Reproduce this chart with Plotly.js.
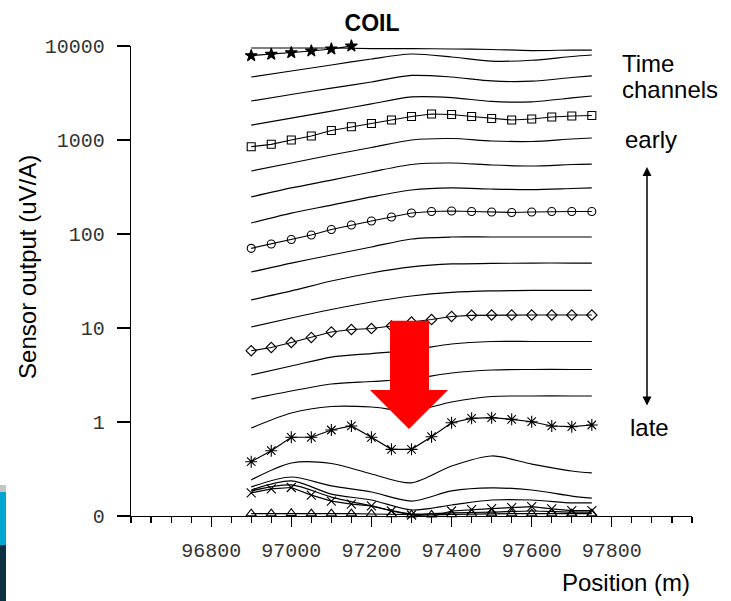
<!DOCTYPE html>
<html>
<head>
<meta charset="utf-8">
<script src="https://cdn.plot.ly/plotly-3.0.1.min.js"></script>
<style>
html,body{margin:0;padding:0;background:#fff;}
#chart{width:731px;height:601px;}
</style>
</head>
<body>
<div id="chart"></div>
<script>
// ---- data ----
const xMarked = [96900,96950,97000,97050,97100,97150,97200,97250,97300,97350,97400,97450,97500,97550,97600,97650,97700,97750];
const xPlain  = [96900,97000,97100,97200,97300,97400,97500,97600,97700,97750];
const xStar   = [96900,96950,97000,97050,97100,97150];

const ch01 = [9520,9520,9520,9400,9400,9290,9180,8950,9060,9060];
const ch02Star = [7890,8160,8490,8850,9290,9990];
const ch03 = [4680,5420,6280,7270,8220,7640,6900,7050,7730,8020];
const ch04 = [2600,3050,3570,4140,4860,4680,4250,4220,4620,4800];
const ch05 = [1440,1710,2030,2420,2870,2830,2570,2550,2800,2940];
const ch06Square = [849,900,1000,1103,1262,1385,1498,1632,1778,1891,1868,1778,1693,1632,1672,1757,1800,1822];
const ch07 = [468,569,692,832,1000,1037,976,964,1025,1050];
const ch08 = [248,309,375,457,549,569,542,529,549,555];
const ch09 = [131,167,203,248,294,309,301,297,305,309];
const ch10Circle = [70.4,78.3,87.4,97.6,111.7,124.6,137.5,151.7,167.3,173.5,175.6,173.5,171.4,169.3,171.4,173.5,173.5,173.5];
const ch11 = [39.4,49.1,59.8,72.7,88.5,92.9,92.9,92.9,92.9,92.9];
const ch12 = [19.9,24.8,31.6,38.5,44.6,48.0,48.6,49.1,49.1,49.1];
const ch13 = [10.25,12.78,15.73,18.9,21.9,23.9,24.8,25.1,25.1,25.1];
const ch14Diamond = [5.73,6.20,7.01,7.93,9.07,9.64,9.88,10.5,11.58,12.31,13.26,13.65,13.75,13.75,13.75,13.75,13.75,13.75];
const ch15 = [3.16,3.94,4.91,5.35,5.83,6.76,7.18,7.18,7.18,7.18];
const ch16 = [1.757,2.137,2.537,2.697,2.867,3.32,3.575,3.619,3.619,3.619];
const ch17 = [0.863,1.247,1.462,1.444,1.309,1.632,1.867,1.891,1.891,1.891];
const ch18Asterisk = [0.378,0.495,0.688,0.688,0.822,0.907,0.688,0.512,0.512,0.698,0.983,1.095,1.111,1.068,1.007,0.907,0.891,0.929];
const ch19 = [0.242,0.366,0.362,0.280,0.225,0.340,0.435,0.357,0.301,0.287];
const ch20 = [0.204,0.260,0.209,0.180,0.144,0.185,0.199,0.189,0.163,0.155];
const ch21 = [0.189,0.236,0.171,0.148,0.116,0.131,0.148,0.148,0.138,0.138];
const ch22 = [0.185,0.214,0.159,0.128,0.105,0.108,0.110,0.113,0.110,0.110];
const ch23Cross = [0.176,0.194,0.201,0.167,0.144,0.134,0.128,0.113,0.1025,0.0988,0.113,0.117,0.120,0.123,0.126,0.119,0.114,0.114];
const ch24Triangle = [0.106,0.106,0.107,0.106,0.106,0.106,0.105,0.104,0.103,0.103,0.104,0.105,0.106,0.106,0.106,0.106,0.106,0.106];

const xTickVals = [96800,97000,97200,97400,97600,97800];
const xTickText = ['96800','97000','97200','97400','97600','97800'];
const yTickVals = [0.1,1,10,100,1000,10000];
const yTickText = ['0','1','10','100','1000','10000'];

// ---- traces ----
const LW = 1.2;
function plain(y){
  return {x:xPlain, y:y, mode:'lines', type:'scatter', showlegend:false,
          line:{color:'#000', width:LW, shape:'spline', smoothing:0.8}, hoverinfo:'skip'};
}
function marked(x, y, sym, size){
  return {x:x, y:y, mode:'lines+markers', type:'scatter', showlegend:false, cliponaxis:false,
          line:{color:'#000', width:LW},
          marker:{symbol:sym, size:size, color:'#000', line:{color:'#000', width:1.1}},
          hoverinfo:'skip'};
}

const traces = [
  plain(ch01),
  marked(xStar, ch02Star, 'star', 9),
  plain(ch03), plain(ch04), plain(ch05),
  marked(xMarked, ch06Square, 'square-open', 8),
  plain(ch07), plain(ch08), plain(ch09),
  marked(xMarked, ch10Circle, 'circle-open', 8),
  plain(ch11), plain(ch12), plain(ch13),
  marked(xMarked, ch14Diamond, 'diamond-open', 8),
  plain(ch15), plain(ch16), plain(ch17),
  marked(xMarked, ch18Asterisk, 'asterisk-open', 10),
  plain(ch19), plain(ch20), plain(ch21), plain(ch22),
  marked(xMarked, ch23Cross, 'x-thin-open', 9),
  marked(xMarked, ch24Triangle, 'triangle-up-open', 9)
];

// ---- layout ----
const tickFont = {family:'Liberation Mono, DejaVu Sans Mono, monospace', size:20, color:'#333'};
const textFont = {family:'Liberation Sans, Arial, sans-serif', size:24, color:'#000'};

const layout = {
  width:731, height:601,
  margin:{l:131, r:39, t:46, b:85, pad:0},
  paper_bgcolor:'#fff', plot_bgcolor:'#fff',
  title:{text:'<b>COIL</b>', font:{family:'Liberation Sans, Arial, sans-serif', size:23, color:'#000'},
         x:0.4296, xref:'paper', xanchor:'center', y:0.961, yref:'container', yanchor:'middle'},
  xaxis:{type:'linear', range:[96600,98000], showgrid:false, zeroline:false,
         showline:true, linecolor:'#000', linewidth:1.3,
         tickmode:'array', tickvals:xTickVals, ticktext:xTickText,
         ticks:'outside', ticklen:10, tickwidth:1.2, tickcolor:'#000',
         minor:{dtick:50, tick0:96600, ticks:'outside', ticklen:6, tickwidth:1.1, tickcolor:'#000', showgrid:false},
         tickfont:tickFont, ticklabelstandoff:6},
  xaxis2:{overlaying:'x', anchor:'y', side:'bottom', range:[96600,98000], showgrid:false, zeroline:false,
          showline:false, showticklabels:false,
          tickmode:'array', tickvals:xTickVals,
          ticks:'inside', ticklen:8, tickwidth:1.2, tickcolor:'#000',
          minor:{dtick:50, tick0:96600, ticks:'inside', ticklen:6, tickwidth:1.1, tickcolor:'#000', showgrid:false}},
  yaxis:{type:'log', range:[-1,4], showgrid:false, zeroline:false,
         showline:true, linecolor:'#000', linewidth:1.3,
         tickmode:'array', tickvals:yTickVals, ticktext:yTickText,
         ticks:'outside', ticklen:13, tickwidth:1.2, tickcolor:'#000',
         tickfont:tickFont, ticklabelstandoff:8},
  annotations:[
    {text:'Sensor output (uV/A)', textangle:-90, xref:'paper', yref:'paper', x:-0.1836, y:0.53,
     xanchor:'center', yanchor:'middle', showarrow:false, font:textFont},
    {text:'Position (m)', xref:'paper', yref:'paper', x:1.0, y:-0.142,
     xanchor:'right', yanchor:'middle', showarrow:false, font:textFont},
    {text:'Time', xref:'paper', yref:'paper', x:0.8717, y:0.962, xanchor:'left', yanchor:'middle', showarrow:false, font:textFont},
    {text:'channels', xref:'paper', yref:'paper', x:0.8717, y:0.908, xanchor:'left', yanchor:'middle', showarrow:false, font:textFont},
    {text:'early', xref:'paper', yref:'paper', x:0.8770, y:0.801, xanchor:'left', yanchor:'middle', showarrow:false, font:textFont},
    {text:'late', xref:'paper', yref:'paper', x:0.8855, y:0.189, xanchor:'left', yanchor:'middle', showarrow:false, font:textFont},
    {text:'', xref:'paper', yref:'paper', x:0.9198, y:0.7426, ax:0, ay:240, showarrow:true,
     arrowside:'end+start', arrowhead:2, startarrowhead:2, arrowsize:1.2, startarrowsize:1.2,
     arrowwidth:1.5, arrowcolor:'#000', standoff:0, startstandoff:0}
  ],
  shapes:[
    {type:'path', xref:'paper', yref:'paper', layer:'above',
     path:'M 0.4617 0.4155 L 0.5312 0.4155 L 0.5312 0.2681 L 0.5651 0.2681 L 0.4955 0.1851 L 0.4260 0.2681 L 0.4617 0.2681 Z',
     fillcolor:'#ff0000', line:{width:0}},
    {type:'rect', xref:'paper', yref:'paper', x0:-0.2335, x1:-0.2228, y0:0.051, y1:0.066, fillcolor:'#c4c4c4', line:{width:0}},
    {type:'rect', xref:'paper', yref:'paper', x0:-0.2335, x1:-0.2228, y0:-0.0617, y1:0.051, fillcolor:'#00a6d2', line:{width:0}},
    {type:'rect', xref:'paper', yref:'paper', x0:-0.2335, x1:-0.2228, y0:-0.181, y1:-0.0617, fillcolor:'#0b3140', line:{width:0}}
  ]
};

Plotly.newPlot('chart', traces, layout, {staticPlot:true, displayModeBar:false});
</script>
</body>
</html>
